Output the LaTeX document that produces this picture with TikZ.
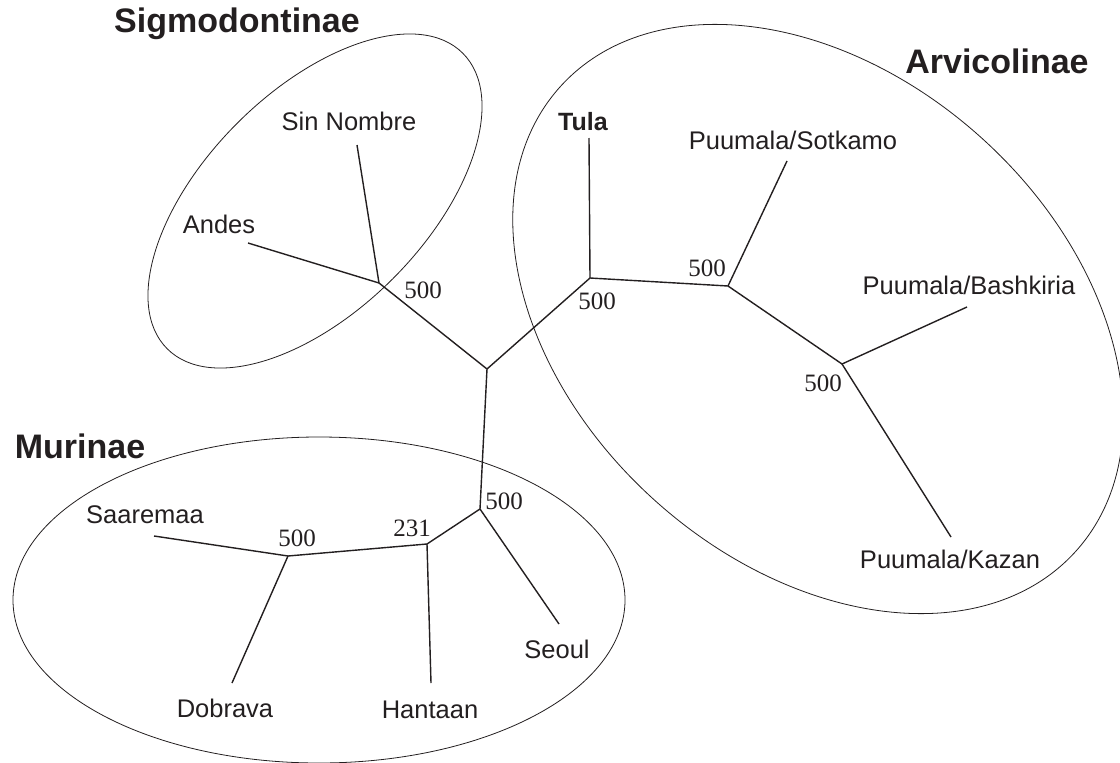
\documentclass[tikz,border=0pt]{standalone}
\usepackage{fontspec}
\setmainfont{Liberation Serif}
\setsansfont{Liberation Sans}
\definecolor{Ink}{HTML}{231F20}

\begin{document}
\begin{tikzpicture}[x=1pt, y=-1pt, every node/.style={inner sep=0pt, text=Ink},
  taxon/.style={font=\sffamily\fontsize{25.5}{28}\selectfont},
  clade/.style={font=\sffamily\bfseries\fontsize{34}{38}\selectfont},
  boot/.style={font=\fontsize{25}{28}\selectfont},
  branch/.style={draw=Ink, line width=1.4pt, line join=miter},
  group/.style={draw=Ink, line width=0.8pt}]
\useasboundingbox (0,0) rectangle (1120,763);
% subfamily outlines
\draw[group, rotate around={45:(315,201)}] (315,201) ellipse (209 and 110);
\draw[group, rotate around={-42:(818,319)}] (818,319) ellipse (347 and 244);
\draw[group] (319,600) ellipse (306 and 163);
% inner nodes
\coordinate (root) at (487,369);
\coordinate (sig) at (379,283);
\coordinate (arv) at (590,278);
\coordinate (sotn) at (728,286);
\coordinate (bashn) at (842,364);
\coordinate (mur) at (480,509);
\coordinate (hann) at (427,544);
\coordinate (dobn) at (288,556);
% leaf ends
\coordinate (sinend) at (357,145);
\coordinate (andend) at (248,243);
\coordinate (tulend) at (589,138);
\coordinate (sotend) at (787,161);
\coordinate (bashend) at (967,307);
\coordinate (kazend) at (951,537);
\coordinate (seoend) at (559,624);
\coordinate (hanend) at (431,683);
\coordinate (dobend) at (232,683);
\coordinate (saaend) at (154,536);
% taxa
\node[taxon] (sin) at (349,121) {Sin Nombre};
\node[taxon] (and) at (219,224) {Andes};
\node[taxon, font=\sffamily\bfseries\fontsize{25}{28}\selectfont] (tula) at (583,122) {Tula};
\node[taxon] (sot) at (793,140) {Puumala/Sotkamo};
\node[taxon] (bash) at (969,285) {Puumala/Bashkiria};
\node[taxon] (kaz) at (950,559) {Puumala/Kazan};
\node[taxon] (seo) at (557,649) {Seoul};
\node[taxon] (han) at (430,710) {Hantaan};
\node[taxon] (dob) at (225,708) {Dobrava};
\node[taxon] (saa) at (145,515) {Saaremaa};
% clades
\node[clade] (sigt) at (237,24) {Sigmodontinae};
\node[clade] (arvt) at (997,61) {Arvicolinae};
\node[clade] (murt) at (80,446) {Murinae};
% bootstrap values
\node[boot] (bsig) at (423,290) {500};
\node[boot] (barv) at (597,301) {500};
\node[boot] (bsot) at (707,268) {500};
\node[boot] (bbash) at (823,383) {500};
\node[boot] (bmur) at (504,501) {500};
\node[boot] (bhan) at (412,528) {231};
\node[boot] (bdob) at (297,538) {500};
% branches
\draw[branch] (root) -- (sig);
\draw[branch] (sig) -- (sinend);
\draw[branch] (sig) -- (andend);
\draw[branch] (root) -- (arv);
\draw[branch] (arv) -- (tulend);
\draw[branch] (arv) -- (sotn);
\draw[branch] (sotn) -- (sotend);
\draw[branch] (sotn) -- (bashn);
\draw[branch] (bashn) -- (bashend);
\draw[branch] (bashn) -- (kazend);
\draw[branch] (root) -- (mur);
\draw[branch] (mur) -- (seoend);
\draw[branch] (mur) -- (hann);
\draw[branch] (hann) -- (hanend);
\draw[branch] (hann) -- (dobn);
\draw[branch] (dobn) -- (saaend);
\draw[branch] (dobn) -- (dobend);
\end{tikzpicture}
\end{document}
